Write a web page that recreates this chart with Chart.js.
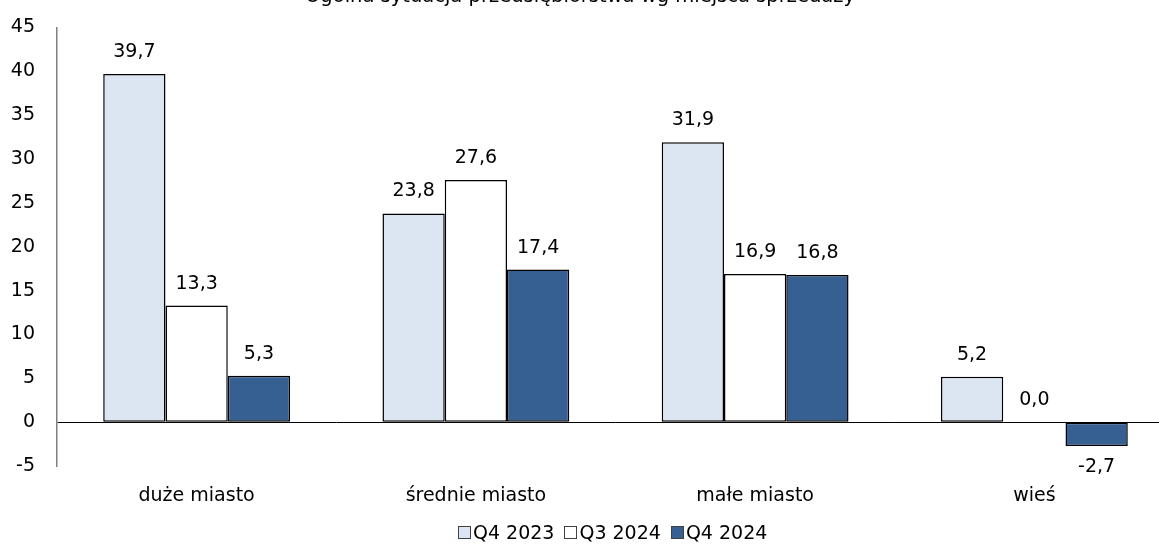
<!DOCTYPE html>
<html lang="pl">
<head>
    <meta charset="UTF-8">
    <title>Ogólna sytuacja przedsiębiorstwa wg miejsca sprzedaży</title>
    <script src="https://cdn.jsdelivr.net/npm/chart.js"></script>
    <style>
        html, body {
            margin: 0;
            padding: 0;
            background: #fff;
            overflow: hidden;
            width: 1159px;
            height: 548px;
        }

        .chart-title {
            position: absolute;
            top: -14px;
            left: 0;
            width: 1160px;
            text-align: center;
            font-family: "DejaVu Sans", Verdana, sans-serif;
            font-size: 19.5px;
            line-height: 20px;
            color: #000;
            z-index: 2;
        }

        .chart-box {
            position: absolute;
            top: -6px;
            left: 0;
            width: 1180px;
            height: 531px;
        }

        .legend {
            position: absolute;
            top: 520px;
            left: 458px;
            display: flex;
            font-family: "DejaVu Sans", Verdana, sans-serif;
            font-size: 19px;
            line-height: 24px;
            color: #000;
        }

        .legend span.item {
            display: flex;
            align-items: center;
            margin-right: 10px;
        }

        .legend span.box {
            display: inline-block;
            width: 11px;
            height: 11px;
            border: 1px solid #404040;
            margin-right: 2px;
        }
    </style>
</head>
<body>

<div class="chart-box">
    <canvas id="salesChart"></canvas>
</div>
<div class="chart-title">Ogólna sytuacja przedsiębiorstwa wg miejsca sprzedaży</div>
<div class="legend" id="legend"></div>

<script>
// dane z wykresu
const categories = ['duże miasto', 'średnie miasto', 'małe miasto', 'wieś'];
const seriesNames = ['Q4 2023', 'Q3 2024', 'Q4 2024'];
const q4_2023 = [39.7, 23.8, 31.9, 5.2];
const q3_2024 = [13.3, 27.6, 16.9, 0.0];
const q4_2024 = [5.3, 17.4, 16.8, -2.7];
const yTicks = [-5, 0, 5, 10, 15, 20, 25, 30, 35, 40, 45];
const colors = ['#dce6f2', '#ffffff', '#366092'];

const fontFamily = '"DejaVu Sans", Verdana, sans-serif';
Chart.defaults.font.family = fontFamily;
Chart.defaults.font.size = 19;
Chart.defaults.color = '#000';

// etykiety wartości nad słupkami (bez zewnętrznych wtyczek)
const valueLabels = {
    id: 'valueLabels',
    afterDatasetsDraw(chart) {
        const ctx = chart.ctx;
        ctx.save();
        ctx.font = '19px ' + fontFamily;
        ctx.fillStyle = '#000';
        ctx.textAlign = 'center';
        ctx.textBaseline = 'middle';
        chart.data.datasets.forEach((ds, i) => {
            const meta = chart.getDatasetMeta(i);
            meta.data.forEach((bar, j) => {
                const v = ds.data[j];
                const txt = v.toFixed(1).replace('.', ',');
                const y = v < 0 ? bar.y + 21 : bar.y - 22;
                ctx.fillText(txt, bar.x, y);
            });
        });
        ctx.restore();
    }
};

const datasets = seriesNames.map((name, i) => ({
    label: name,
    data: [q4_2023, q3_2024, q4_2024][i],
    backgroundColor: colors[i],
    borderColor: '#000',
    borderWidth: 1.5,
    borderSkipped: false,
    inflateAmount: 0
}));

const ctx = document.getElementById('salesChart').getContext('2d');
new Chart(ctx, {
    type: 'bar',
    data: {
        labels: categories,
        datasets: datasets
    },
    options: {
        responsive: true,
        maintainAspectRatio: false,
        animation: false,
        datasets: {
            bar: {
                categoryPercentage: 0.669,
                barPercentage: 1.0
            }
        },
        layout: {
            padding: { top: 15, right: 6, left: 0, bottom: 0 }
        },
        plugins: {
            legend: { display: false },
            tooltip: { enabled: false }
        },
        scales: {
            x: {
                grid: { display: false, drawTicks: false },
                border: { display: false },
                ticks: { padding: 18 }
            },
            y: {
                min: -5,
                max: 45,
                afterBuildTicks(scale) {
                    scale.ticks = yTicks.map(v => ({ value: v }));
                },
                afterFit(scale) {
                    scale.width = 57;
                },
                grid: {
                    drawTicks: false,
                    color: c => (c.tick && c.tick.value === 0 ? '#000' : 'rgba(0,0,0,0)'),
                    lineWidth: 1
                },
                border: { display: true, color: '#808080', width: 1.5 },
                ticks: { padding: 22 }
            }
        }
    },
    plugins: [valueLabels]
});

// legenda w HTML (mały odstęp między kwadratem a tekstem jak w oryginale)
const legendEl = document.getElementById('legend');
seriesNames.forEach((name, i) => {
    const item = document.createElement('span');
    item.className = 'item';
    const box = document.createElement('span');
    box.className = 'box';
    box.style.background = colors[i];
    item.appendChild(box);
    item.appendChild(document.createTextNode(name));
    legendEl.appendChild(item);
});
</script>

</body>
</html>
